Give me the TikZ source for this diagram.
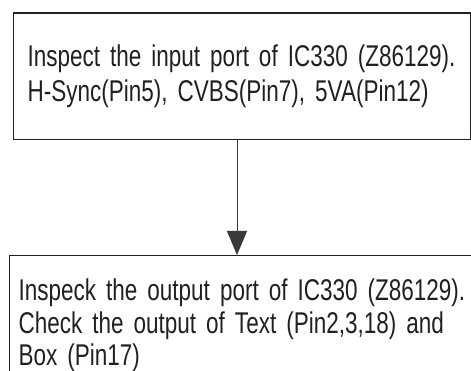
\documentclass[tikz,border=0pt]{standalone}
\usepackage{fontspec}
\setmainfont{Liberation Sans}[FakeStretch=0.75]
\usetikzlibrary{arrows.meta}
\definecolor{ink}{HTML}{231F20}
\definecolor{arrowgray}{HTML}{3A3A3A}
\begin{document}
\begin{tikzpicture}[x=1pt,y=-1pt,
  flowbox/.style={draw=ink,line width=1.3pt,rectangle,anchor=north west,
    align=left,text=ink,inner ysep=0pt},
  topfont/.style={font=\fontsize{30}{35}\selectfont},
  botfont/.style={font=\fontsize{30}{32.5}\selectfont},
  flowarrow/.style={draw=arrowgray,line width=1pt,-{Triangle[width=20pt,length=24pt]}}]
\useasboundingbox (0,0) rectangle (471,371);
\clip (0,0) rectangle (471,371);
\node[flowbox,topfont,minimum width=457.5pt,minimum height=126.5pt,
  inner xsep=14.5pt,text width=428.5pt] (top) at (12.5,12.5)
  {\mbox{Inspect the input port of IC330 (Z86129).}\\\mbox{H-Sync(Pin5), CVBS(Pin7), 5VA(Pin12)}};
\node[flowbox,botfont,minimum width=480pt,minimum height=139.4pt,
  inner xsep=9.5pt,text width=461pt] (bot) at (8.5,255)
  {\mbox{Inspeck the output port of IC330 (Z86129).}\\\mbox{Check the output of Text (Pin2,3,18) and}\\\mbox{Box (Pin17)}};
\coordinate (arrowx) at (237,0);
\draw[flowarrow] (top.south -| arrowx) -- (arrowx |- bot.north);
\end{tikzpicture}
\end{document}
